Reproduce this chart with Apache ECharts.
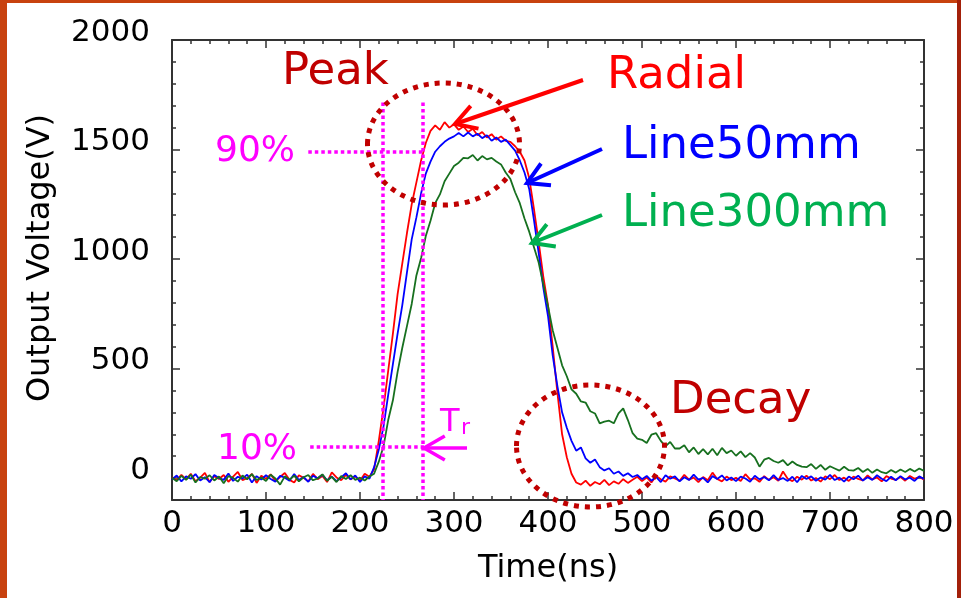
<!DOCTYPE html>
<html><head><meta charset="utf-8">
<script src="https://cdn.jsdelivr.net/npm/echarts@6/dist/echarts.min.js"></script>
<style>html,body{margin:0;padding:0;background:#fff}#c{width:961px;height:598px}</style>
</head><body><div id="c"></div>
<script>
// ---- data (Time in ns, Output Voltage in V), sampled every 5 ns from 0 to 800 ----
const timeStep = 5;
const timeCount = 161;

const radialValues = [
  4,-10,15,-6,20,-14,2,24,-18,9,-4,14,-17,7,28,-9,0,19,-22,11,-3,17,-13,5,23,-8,-20,13,1,-15,19,-5,10,-18,26,3,-10,15,-6,8,-12,20,6,
  40,170,320,490,660,840,980,1120,1250,1350,1450,1530,1585,1610,1590,1625,1600,1615,1590,1605,1580,1595,1565,1580,1555,1570,1545,1560,1540,1535,1515,1490,1450,1370,1230,1080,920,790,600,390,200,95,20,-20,-30,-12,-35,-18,-28,-8,-32,-15,-26,-5,-22,
  -8,6,-14,3,-20,10,-5,-16,8,-2,-12,15,-7,2,-18,5,-10,25,-4,-15,7,-9,1,-13,18,-6,-1,-17,9,-8,4,-12,30,-3,-14,6,-7,11,-11,0,-16,8,-5,14,-9,2,-13,7,-4,-10,12,-6,3,-15,9,-2,-8,5,-12,10,-3,6,-7
];

const line50Values = [
  -6,12,-15,8,-3,18,-11,4,-19,14,0,-8,21,-13,6,-2,16,-20,9,-7,13,-4,-16,10,2,-12,19,-9,5,-17,11,-1,15,-10,7,-14,3,22,-6,12,-18,8,-3,
  50,130,235,380,520,660,790,940,1090,1190,1300,1390,1445,1490,1515,1535,1550,1560,1575,1560,1578,1560,1572,1552,1565,1540,1555,1535,1545,1520,1495,1450,1395,1320,1180,1030,870,740,560,420,300,230,170,125,140,90,70,85,50,35,45,20,30,10,22,5,14,
  -5,10,-12,6,-18,13,-3,8,-15,4,-9,16,-7,1,-20,9,-4,12,-11,3,-14,7,-2,-17,11,-6,5,-10,14,-8,0,-13,6,-19,10,-4,8,-12,3,-7,15,-9,2,-16,7,-5,11,-11,4,-8,13,-3,-14,6,-10,9,-6,2,-13,8,-4
];

const line300Values = [
  2,-14,10,-8,16,-20,5,-3,13,-11,7,-24,9,1,-16,12,-6,18,-9,3,-13,15,-2,-30,8,-7,11,-15,4,14,-10,-1,17,-12,6,-18,9,-4,13,-8,2,-11,7,
  20,75,145,265,355,485,595,695,795,925,
  1005,1105,1175,1255,1295,1355,1390,1425,1440,1462,
  1460,1475,1450,1470,1455,1462,1445,1432,1395,1365,
  1305,1255,1185,1125,1055,985,885,785,675,595,
  515,465,405,385,350,345,305,295,250,258,
  262,250,295,318,265,205,180,175,160,198,
  205,170,145,165,135,135,150,118,140,110,
  132,108,134,104,138,114,126,102,122,96,
  114,94,52,84,92,78,70,82,58,76,
  60,52,50,64,42,60,38,54,44,34,
  52,36,34,46,28,42,24,39,27,22,
  37,25,39,28,42,30,44,33
];

const seriesNames = ['Radial', 'Line50mm', 'Line300mm'];
const seriesLineColors = ['#ff0000', '#0000ff', '#17701f'];

// Guide lines (90% / 10% levels, Tr markers) in data coordinates [time, voltage]
const guide90 = [[145, 1491], [268, 1491]];
const guide10 = [[147, 141], [268, 141]];
const guideT1 = [[224, 1715], [224, -100]];
const guideT2 = [[267, 1715], [267, -100]];

const xTickLabels = [0, 100, 200, 300, 400, 500, 600, 700, 800];
const yTickLabels = [0, 500, 1000, 1500, 2000];

// ---- build ----
const times = [];
for (let i = 0; i < timeCount; i++) times.push(i * timeStep);
const pairs = vals => times.map((t, i) => [t, vals[i]]);

const FONT = 'DejaVu Sans, Verdana, sans-serif';
const axisColor = '#333';

function xAx(pos, showLabel) {
  return {
    type: 'value', position: pos, min: 0, max: 800, interval: 100,
    axisLine: { show: true, onZero: false, lineStyle: { color: axisColor, width: 2 } },
    axisTick: { show: true, inside: true, length: 8, lineStyle: { color: axisColor, width: 1.5 } },
    minorTick: { show: true, splitNumber: 5, length: 4, lineStyle: { color: axisColor, width: 1.5 } },
    splitLine: { show: false }, minorSplitLine: { show: false },
    axisLabel: {
      show: showLabel, margin: 8, color: '#000', fontFamily: FONT, fontSize: 31,
      formatter: v => (xTickLabels.indexOf(v) >= 0 ? String(v) : '')
    },
    name: showLabel ? 'Time(ns)' : '', nameLocation: 'middle', nameGap: 53,
    nameTextStyle: { color: '#000', fontFamily: FONT, fontSize: 32 }
  };
}
function yAx(pos, showLabel) {
  return {
    type: 'value', position: pos, min: -100, max: 2000, splitNumber: 5,
    axisLine: { show: true, onZero: false, lineStyle: { color: axisColor, width: 2 } },
    axisTick: { show: true, inside: true, length: 8, lineStyle: { color: axisColor, width: 1.5 } },
    minorTick: { show: true, splitNumber: 5, length: 4, lineStyle: { color: axisColor, width: 1.5 } },
    splitLine: { show: false }, minorSplitLine: { show: false },
    axisLabel: {
      show: showLabel, margin: 22, color: '#000', fontFamily: FONT, fontSize: 31,
      verticalAlign: 'bottom', lineHeight: 15,
      formatter: v => (yTickLabels.indexOf(v) >= 0 ? String(v) : '')
    },
    name: showLabel ? 'Output Voltage(V)' : '', nameLocation: 'middle', nameGap: 115, nameRotate: 90,
    nameTextStyle: { color: '#000', fontFamily: FONT, fontSize: 32, padding: [0, 0, 0, 24] }
  };
}

const mag = '#ff00ff';
const dred = '#c00000';
function arrow(tail, tip, w1, w2, color, width) {
  return [
    { type: 'polyline', shape: { points: [tail, tip] }, style: { stroke: color, lineWidth: width, fill: null }, z: 100, silent: true },
    { type: 'polyline', shape: { points: [w1, tip, w2] }, style: { stroke: color, lineWidth: width, fill: null, lineJoin: 'miter' }, z: 100, silent: true }
  ];
}
function txt(s, x, y, color, size) {
  return { type: 'text', x: x, y: y, z: 100, silent: true,
    style: { text: s, fill: color, font: size + 'px ' + FONT, textAlign: 'left', textVerticalAlign: 'middle', align: 'left', verticalAlign: 'middle' } };
}

const graphics = [
  { type: 'rect', shape: { x: 0, y: 0, width: 7, height: 598 }, style: { fill: '#c8420f' }, silent: true },
  { type: 'rect', shape: { x: 0, y: 0, width: 961, height: 3 }, style: { fill: '#c8420f' }, silent: true },
  { type: 'rect', shape: { x: 957, y: 0, width: 4, height: 598 }, style: { fill: '#a3200a' }, silent: true },
  { type: 'ellipse', shape: { cx: 443.5, cy: 144, rx: 76, ry: 61 }, style: { stroke: dred, lineWidth: 5, lineDash: [5, 6], fill: null }, z: 100, silent: true },
  { type: 'ellipse', shape: { cx: 590.5, cy: 446, rx: 74, ry: 61 }, style: { stroke: dred, lineWidth: 5, lineDash: [5, 6], fill: null }, z: 100, silent: true },
  ...arrow([583, 80], [455, 124], [478.5, 128.6], [470.7, 105.9], '#ff0000', 4),
  ...arrow([602, 149], [527, 183], [551, 185.3], [541, 163.5], '#0000ff', 4),
  ...arrow([602, 215], [532, 243], [555.8, 246.4], [546.8, 224.2], '#00b050', 4),
  ...arrow([467, 448], [424, 448], [444.8, 436], [444.8, 460], mag, 3.5),
  txt('Peak', 282, 72, dred, 45),
  txt('Radial', 607, 76, '#ff0000', 45),
  txt('Line50mm', 622, 146, '#0000ff', 45),
  txt('Line300mm', 622, 214, '#00b050', 45),
  txt('Decay', 670, 401, dred, 45),
  txt('90%', 215, 152, mag, 36),
  txt('10%', 217, 450, mag, 36),
  txt('T', 440, 423, mag, 32),
  txt('r', 461, 428, mag, 22)
];

const guideLine = pts => [{ coord: pts[0] }, { coord: pts[1] }];

const chart = echarts.init(document.getElementById('c'), null, { renderer: 'canvas' });
chart.setOption({
  animation: false,
  backgroundColor: '#ffffff',
  grid: { left: 172, right: 37, top: 40, bottom: 98, containLabel: false },
  xAxis: [xAx('bottom', true), xAx('top', false)],
  yAxis: [yAx('left', true), yAx('right', false)],
  series: [
    { name: seriesNames[0], type: 'line', data: pairs(radialValues), showSymbol: false, symbol: 'none',
      lineStyle: { color: seriesLineColors[0], width: 1.8 }, itemStyle: { color: seriesLineColors[0] },
      markLine: { silent: true, symbol: ['none', 'none'], label: { show: false },
        lineStyle: { color: mag, width: 3.5, type: [3.5, 3] },
        data: [guideLine(guide90), guideLine(guide10), guideLine(guideT1), guideLine(guideT2)] } },
    { name: seriesNames[1], type: 'line', data: pairs(line50Values), showSymbol: false, symbol: 'none',
      lineStyle: { color: seriesLineColors[1], width: 1.8 }, itemStyle: { color: seriesLineColors[1] } },
    { name: seriesNames[2], type: 'line', data: pairs(line300Values), showSymbol: false, symbol: 'none',
      lineStyle: { color: seriesLineColors[2], width: 1.8 }, itemStyle: { color: seriesLineColors[2] } }
  ],
  graphic: graphics
});
</script></body></html>
